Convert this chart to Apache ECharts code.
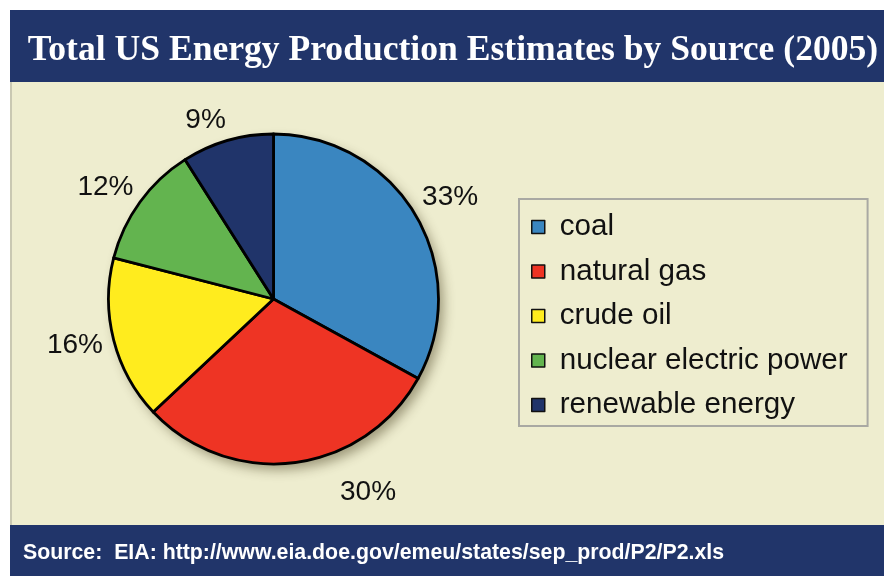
<!DOCTYPE html>
<html>
<head>
<meta charset="utf-8">
<title>Total US Energy Production Estimates by Source (2005)</title>
<script src="https://cdn.jsdelivr.net/npm/echarts@6/dist/echarts.min.js"></script>
<style>
  html, body { margin: 0; padding: 0; background: #ffffff; }
  #chart { width: 884px; height: 576px; }
</style>
</head>
<body>
<div id="chart"></div>
<script>
// Energy sources and their share of total US production (percent)
const sources = ['coal', 'natural gas', 'crude oil', 'nuclear electric power', 'renewable energy'];
const shares = [33, 30, 16, 12, 9];
const sliceColors = ['#3A86C0', '#EE3424', '#FFEC1E', '#63B44F', '#20346A'];

const titleText = 'Total US Energy Production Estimates by Source (2005)';
const sourceText = 'Source:  EIA: http://www.eia.doe.gov/emeu/states/sep_prod/P2/P2.xls';

// Pie geometry and label placement
const pieCenter = [273.5, 299];
const pieRadius = 165;
const labelDistance = 204;
const labelNudge = [[1, 2], [69, -9], [-1, -4], [-3, 8], [-11, 17]];

const NAVY = '#21356A';
const PANEL = '#EEEDCF';

const total = shares.reduce((a, b) => a + b, 0);
function midAngle(i) {
  let before = 0;
  for (let k = 0; k < i; k++) before += shares[k];
  return ((before + shares[i] / 2) / total) * Math.PI * 2; // clockwise from 12 o'clock
}

const chart = echarts.init(document.getElementById('chart'), null, { renderer: 'canvas' });

chart.setOption({
  backgroundColor: '#ffffff',
  animation: false,
  graphic: [
    { type: 'rect', z: -10, shape: { x: 10, y: 82, width: 874, height: 443 }, style: { fill: PANEL } },
    { type: 'rect', z: -9, shape: { x: 10, y: 82, width: 2, height: 443 }, style: { fill: '#C9C8B2' } },
    { type: 'rect', z: -10, shape: { x: 10, y: 10, width: 874, height: 72 }, style: { fill: NAVY } },
    { type: 'rect', z: -10, shape: { x: 10, y: 525, width: 874, height: 51 }, style: { fill: NAVY } },
    {
      type: 'text', z: 10,
      style: {
        x: 453, y: 51, text: titleText, fill: '#ffffff',
        font: 'bold 35.6px "Liberation Serif", "Times New Roman", serif',
        textAlign: 'center', textVerticalAlign: 'middle'
      }
    },
    {
      type: 'text', z: 10,
      style: {
        x: 23, y: 553, text: sourceText, fill: '#ffffff',
        font: 'bold 21.3px "Liberation Sans", Arial, sans-serif',
        textAlign: 'left', textVerticalAlign: 'middle'
      }
    }
  ],
  legend: {
    orient: 'vertical',
    left: 519,
    top: 199,
    padding: [13, 20, 6, 12],
    backgroundColor: 'transparent',
    borderColor: '#A9A9A3',
    borderWidth: 2,
    borderRadius: 0,
    itemWidth: 13,
    itemHeight: 13,
    itemGap: 14.5,
    icon: 'rect',
    selectedMode: false,
    itemStyle: { borderColor: '#111111', borderWidth: 1.5 },
    textStyle: {
      fontFamily: '"Liberation Sans", Arial, sans-serif',
      fontSize: 29.6,
      lineHeight: 29,
      color: '#111111',
      padding: [0, 0, 0, 10]
    },
    data: sources
  },
  series: [
    {
      // soft drop shadow under the pie
      type: 'pie',
      silent: true,
      z: 1,
      center: pieCenter,
      radius: pieRadius,
      label: { show: false },
      labelLine: { show: false },
      itemStyle: {
        color: '#000000',
        shadowBlur: 12,
        shadowColor: 'rgba(60, 50, 20, 0.45)',
        shadowOffsetX: 5,
        shadowOffsetY: 6
      },
      data: [{ value: 1, name: '' }]
    },
    {
      type: 'pie',
      z: 2,
      center: pieCenter,
      radius: pieRadius,
      startAngle: 90,
      clockwise: true,
      avoidLabelOverlap: false,
      itemStyle: { borderColor: '#000000', borderWidth: 2.8 },
      emphasis: { disabled: true },
      label: {
        show: true,
        position: 'outside',
        formatter: '{c}%',
        fontFamily: '"Liberation Sans", Arial, sans-serif',
        fontSize: 28,
        color: '#111111'
      },
      labelLine: { show: false },
      labelLayout: function (params) {
        const i = params.dataIndex;
        const a = midAngle(i);
        return {
          x: pieCenter[0] + Math.sin(a) * labelDistance + labelNudge[i][0],
          y: pieCenter[1] - Math.cos(a) * labelDistance + labelNudge[i][1],
          align: 'center',
          verticalAlign: 'middle'
        };
      },
      data: sources.map((name, i) => ({
        name: name,
        value: shares[i],
        itemStyle: { color: sliceColors[i] }
      }))
    }
  ]
});
</script>
</body>
</html>
